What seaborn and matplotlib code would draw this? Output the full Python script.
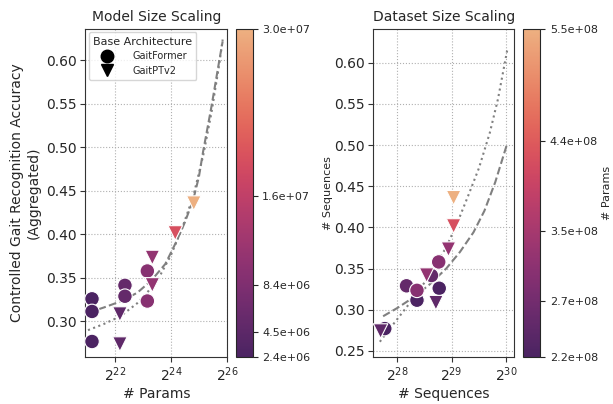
import numpy as np
import pandas as pd
import matplotlib
matplotlib.use("Agg")
import matplotlib.pyplot as plt
import seaborn as sns
from matplotlib.lines import Line2D
from matplotlib.colors import Normalize
from matplotlib.cm import ScalarMappable

# ------------------------------------------------------------
# data
# ------------------------------------------------------------
arch = ["GaitFormer"] * 7 + ["GaitPTv2"] * 6
n_params = [2.38e6, 2.38e6, 2.38e6, 5.38e6, 5.38e6, 9.37e6, 9.37e6,
            4.75e6, 4.75e6, 1.06e7, 1.06e7, 1.87e7, 2.96e7]
n_sequences = [4.58e8, 3.45e8, 2.29e8, 4.15e8, 3.02e8, 4.55e8, 3.45e8,
               4.39e8, 2.17e8, 5.15e8, 3.90e8, 5.50e8, 5.50e8]
accuracy = [0.326, 0.3115, 0.277, 0.3415, 0.329, 0.358, 0.3235,
            0.3085, 0.274, 0.3735, 0.342, 0.4017, 0.436]

# trend curves, x given as log2 positions
size_dash_log2 = [21.04, 21.6, 22.2, 22.8, 23.3, 23.8, 24.2, 24.5, 24.8, 25.0, 25.15, 25.45, 25.72, 25.85]
size_dash_acc = [0.310, 0.316, 0.323, 0.333, 0.347, 0.366, 0.392, 0.414, 0.440, 0.466, 0.495, 0.547, 0.598, 0.622]
size_dot_log2 = [21.04, 21.6, 22.2, 22.8, 23.2, 23.6, 24.0, 24.4, 24.8, 25.15, 25.45, 25.72, 25.85]
size_dot_acc = [0.290, 0.297, 0.306, 0.321, 0.335, 0.352, 0.376, 0.407, 0.444, 0.490, 0.540, 0.594, 0.624]

data_dash_log2 = [27.74, 28.0, 28.3, 28.6, 28.9, 29.15, 29.4, 29.6, 29.8, 30.02]
data_dash_acc = [0.292, 0.302, 0.315, 0.331, 0.350, 0.370, 0.394, 0.420, 0.455, 0.502]
data_dot_log2 = [27.68, 27.9, 28.1, 28.3, 28.5, 28.7, 28.9, 29.1, 29.3, 29.5, 29.7, 29.85, 30.03]
data_dot_acc = [0.261, 0.280, 0.297, 0.314, 0.333, 0.353, 0.376, 0.405, 0.438, 0.472, 0.515, 0.556, 0.619]

df = pd.DataFrame({"arch": arch, "params": n_params,
                   "sequences": n_sequences, "acc": accuracy})

sns.set_style("ticks")
plt.rcParams["font.family"] = ["DejaVu Sans"]

cmap = sns.color_palette("flare_r", as_cmap=True)
markers = {"GaitFormer": "o", "GaitPTv2": "v"}
p_norm = Normalize(df["params"].min(), df["params"].max())
s_norm = Normalize(df["sequences"].min(), df["sequences"].max())

fig = plt.figure(figsize=(6.13, 4.04), dpi=100)
ax1 = fig.add_axes([0.139, 0.116, 0.232, 0.812])
cax1 = fig.add_axes([0.385, 0.116, 0.027, 0.812])
ax2 = fig.add_axes([0.609, 0.116, 0.230, 0.812])
cax2 = fig.add_axes([0.853, 0.116, 0.028, 0.812])


def style_axis(ax):
    ax.set_xscale("log", base=2)
    ax.grid(True, linestyle=":", color="#b0b0b0", linewidth=0.8)
    ax.set_axisbelow(True)
    for sp in ax.spines.values():
        sp.set_color("#333333")
    ax.tick_params(labelsize=10, color="#333333", length=3.5, pad=2.5)


def add_cbar(cax, norm, label, pad):
    sm = ScalarMappable(norm=norm, cmap=cmap)
    cb = fig.colorbar(sm, cax=cax)
    cb.set_ticks(np.geomspace(norm.vmin, norm.vmax, 5))
    cb.ax.yaxis.set_major_formatter(matplotlib.ticker.FormatStrFormatter("%.1e"))
    cb.ax.tick_params(labelsize=8)
    cb.set_label(label, fontsize=8, labelpad=pad)
    return cb


# ---- panel 1: model size
sns.scatterplot(data=df, x="params", y="acc", hue="params", hue_norm=p_norm,
                palette=cmap, style="arch", markers=markers, s=110,
                edgecolor="white", linewidth=0.8, legend=False, ax=ax1, zorder=3)
ax1.plot(2.0 ** np.array(size_dash_log2), size_dash_acc, "--", color="gray", lw=1.5, zorder=2)
ax1.plot(2.0 ** np.array(size_dot_log2), size_dot_acc, ":", color="gray", lw=1.5, zorder=2)
style_axis(ax1)
ax1.set_xlim(2 ** 20.94, 2 ** 26.02)
ax1.set_ylim(0.259, 0.636)
ax1.set_xticks([2 ** 22, 2 ** 24, 2 ** 26])
ax1.set_title("Model Size Scaling", fontsize=10)
ax1.set_xlabel("# Params", fontsize=10, labelpad=2)
ax1.set_ylabel("Controlled Gait Recognition Accuracy\n(Aggregated)", fontsize=10)

handles = [Line2D([], [], marker=markers[a], color="black", linestyle="", markersize=9)
           for a in ["GaitFormer", "GaitPTv2"]]
leg = ax1.legend(handles, ["GaitFormer", "GaitPTv2"], title="Base Architecture",
                 loc="upper left", fontsize=7, title_fontsize=8, frameon=True,
                 borderaxespad=0.35, handletextpad=1.6, labelspacing=0.45,
                 borderpad=0.45)
leg.get_frame().set_edgecolor("#cccccc")
add_cbar(cax1, p_norm, "# Sequences", 9)

# ---- panel 2: dataset size
sns.scatterplot(data=df, x="sequences", y="acc", hue="params", hue_norm=p_norm,
                palette=cmap, style="arch", markers=markers, s=110,
                edgecolor="white", linewidth=0.8, legend=False, ax=ax2, zorder=3)
ax2.plot(2.0 ** np.array(data_dash_log2), data_dash_acc, "--", color="gray", lw=1.5, zorder=2)
ax2.plot(2.0 ** np.array(data_dot_log2), data_dot_acc, ":", color="gray", lw=1.5, zorder=2)
style_axis(ax2)
ax2.set_xlim(2 ** 27.56, 2 ** 30.15)
ax2.set_ylim(0.2423, 0.641)
ax2.set_xticks([2 ** 28, 2 ** 29, 2 ** 30])
ax2.set_title("Dataset Size Scaling", fontsize=10)
ax2.set_xlabel("# Sequences", fontsize=10, labelpad=2)
ax2.set_ylabel("")
add_cbar(cax2, s_norm, "# Params", 3)

fig.savefig("out.png", dpi=100)
